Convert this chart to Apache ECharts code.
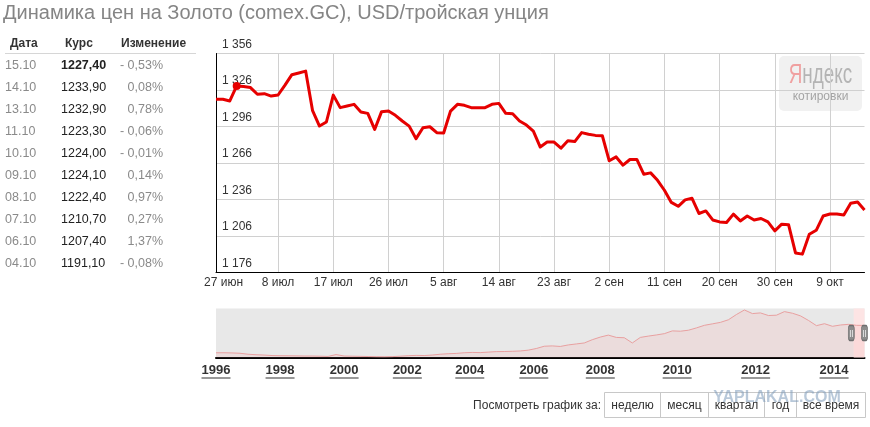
<!DOCTYPE html>
<html><head><meta charset="utf-8">
<script src="https://cdn.jsdelivr.net/npm/echarts@6/dist/echarts.min.js"></script>
<style>html,body{margin:0;padding:0;background:#fff;}#c{width:870px;height:427px;}</style>
</head><body><div id="c"></div>
<script>
const FONT = '"Liberation Sans", Arial, sans-serif';

// ---- main chart: COMEX gold, trading days (Mon–Sat), 27.06 – 15.10 ----
const dates = [
 '27.06','28.06','30.06',
 '01.07','02.07','03.07','04.07','05.07','07.07','08.07','09.07','10.07','11.07','12.07','14.07','15.07','16.07','17.07','18.07','19.07','21.07','22.07','23.07','24.07','25.07','26.07','28.07','29.07','30.07','31.07',
 '01.08','02.08','04.08','05.08','06.08','07.08','08.08','09.08','11.08','12.08','13.08','14.08','15.08','16.08','18.08','19.08','20.08','21.08','22.08','23.08','25.08','26.08','27.08','28.08','29.08','30.08',
 '01.09','02.09','03.09','04.09','05.09','06.09','08.09','09.09','10.09','11.09','12.09','13.09','15.09','16.09','17.09','18.09','19.09','20.09','22.09','23.09','24.09','25.09','26.09','27.09','29.09','30.09',
 '01.10','02.10','03.10','04.10','06.10','07.10','08.10','09.10','10.10','11.10','13.10','14.10','15.10'
];
const prices = [
 1318.4,1318.4,1317.0,
 1329.3,1328.8,1328.0,1322.5,1323.0,1321.0,1321.9,1330.0,1338.6,1340.0,1341.5,1309.0,1296.4,1299.7,1321.8,1311.5,1312.8,1314.2,1307.9,1306.8,1293.6,1308.2,1308.7,1305.2,1300.5,1296.3,1286.0,
 1295.0,1295.8,1290.9,1290.6,1308.7,1314.2,1313.4,1311.5,1311.5,1311.5,1314.2,1315.0,1306.8,1306.5,1300.5,1297.2,1292.2,1279.1,1283.2,1283.2,1278.2,1284.3,1283.6,1291.0,1289.6,1288.7,
 1288.4,1267.8,1271.0,1264.2,1268.9,1268.9,1256.8,1257.9,1251.8,1243.6,1233.6,1230.4,1235.7,1237.0,1224.5,1226.6,1219.2,1217.6,1217.1,1224.0,1218.4,1222.5,1219.2,1220.4,1217.6,1210.2,
 1215.7,1215.2,1192.05,1191.1,1207.4,1210.7,1222.4,1224.1,1224.0,1223.3,1232.9,1233.9,1227.4
];
const xLabelIndex = [0,9,17,25,33,41,49,57,65,73,81,89];
const monthNames = {'06':'июн','07':'июл','08':'авг','09':'сен','10':'окт'};
const yMin = 1176, yMax = 1356, yStep = 30;
const highlightIndex = 3;

// ---- navigator: long-term history 1996 – 2014 (one point per navigator step) ----
const navValues = [
 389,390,385,375,345,330,320,305,300,298,295,290,290,285,278,335,
 290,285,280,275,270,268,272,285,300,310,305,320,345,360,370,390,
 400,395,410,425,428,435,445,470,520,590,600,583,630,660,690,790,
 870,930,860,850,690,860,900,935,975,1060,1050,1080,1150,1230,1275,1320,
 1400,1560,1700,1590,1610,1530,1540,1650,1600,1520,1380,1220,1280,1200,1240,1260,
 1230,1227
];
const navYearLabels = ['1996','1998','2000','2002','2004','2006','2008','2010','2012','2014'];
const navYearPos    = [0, 8, 16, 23.9, 31.7, 39.7, 48, 57.6, 67.4, 77.2];
const navMin = 245, navMax = 1745;
const navSelectFrom = 79.65;

// ---- side table ----
const tableDates   = ['15.10','14.10','13.10','11.10','10.10','09.10','08.10','07.10','06.10','04.10'];
const tableRates   = [1227.40,1233.90,1232.90,1223.30,1224.00,1224.10,1222.40,1210.70,1207.40,1191.10];
const tableChanges = [-0.53,0.08,0.78,-0.06,-0.01,0.14,0.97,0.27,1.37,-0.08];
const tableHeaders = ['Дата','Курс','Изменение'];

const periodButtons = ['неделю','месяц','квартал','год','все время'];

const chart = echarts.init(document.getElementById('c'));

const fmtThousands = v => String(v).replace(/\B(?=(\d{3})+(?!\d))/g, ' ');
const fmtComma = (v) => v.toFixed(2).replace('.', ',');
const navLast = navValues.length - 1;

const graphics = [];
graphics.push({type:'text', x:3, y:13, style:{text:'Динамика цен на Золото (comex.GC), USD/тройская унция', font:'20px '+FONT, fill:'#858585', textVerticalAlign:'middle'}});

// table
const headerX = [10, 65, 121];
tableHeaders.forEach((h, i) => graphics.push({type:'text', x:headerX[i], y:43.5, style:{text:h, font:'bold 12px '+FONT, fill:'#333', textVerticalAlign:'middle'}}));
graphics.push({type:'line', shape:{x1:5, y1:53.5, x2:196, y2:53.5}, style:{stroke:'#d6d6d6', lineWidth:1}});
tableDates.forEach((d, i) => {
  const y = 66 + i * 21.95;
  graphics.push({type:'text', x:5, y, style:{text:d, font:'12.5px '+FONT, fill:'#8a8a8a', textVerticalAlign:'middle'}});
  graphics.push({type:'text', x:61, y, style:{text:fmtComma(tableRates[i]), font:(i===0?'bold ':'')+'12.5px '+FONT, fill:'#222', textVerticalAlign:'middle'}});
  const c = tableChanges[i];
  graphics.push({type:'text', x:163, y, style:{text:(c<0?'- ':'')+fmtComma(Math.abs(c))+'%', font:'12.5px '+FONT, fill:'#8a8a8a', textAlign:'right', textVerticalAlign:'middle'}});
});

// Yandex watermark
graphics.push({type:'rect', shape:{x:779, y:56, width:83, height:55, r:5}, style:{fill:'#f1f1f1'}, z:-1});
graphics.push({type:'text', x:820.5, y:76, scaleX:0.7, style:{text:'{r|Я}{g|ндекс}', font:'27px '+FONT, textAlign:'center', textVerticalAlign:'middle',
  rich:{r:{fill:'#f0a0a0', fontSize:27, fontFamily:FONT}, g:{fill:'#b4b4b4', fontSize:27, fontFamily:FONT}}}});
graphics.push({type:'text', x:820.5, y:96.5, style:{text:'котировки', font:'12px '+FONT, fill:'#a4a4a4', textAlign:'center', textVerticalAlign:'middle'}});

// period buttons
const btnEdges = [604.5, 660.5, 708.5, 764.5, 796.5, 865.5];
graphics.push({type:'text', x:601, y:405.5, style:{text:'Посмотреть график за:', font:'12px '+FONT, fill:'#333', textAlign:'right', textVerticalAlign:'middle'}});
graphics.push({type:'rect', shape:{x:btnEdges[0], y:392.5, width:btnEdges[5]-btnEdges[0], height:25}, style:{fill:'#fff', stroke:'#c8c8c8', lineWidth:1}});
periodButtons.forEach((b, i) => {
  if (i > 0) graphics.push({type:'line', shape:{x1:btnEdges[i], y1:392.5, x2:btnEdges[i], y2:417.5}, style:{stroke:'#c8c8c8', lineWidth:1}});
  graphics.push({type:'text', x:(btnEdges[i]+btnEdges[i+1])/2, y:405.5, style:{text:b, font:'12px '+FONT, fill:'#333', textAlign:'center', textVerticalAlign:'middle'}});
});
graphics.push({type:'text', x:777, y:397.5, z:100, style:{text:'YAPLAKAL.COM', font:'bold 16px '+FONT, fill:'rgba(125,155,185,0.55)', textAlign:'center', textVerticalAlign:'middle'}});

const option = {
  backgroundColor:'#fff',
  animation:false,
  textStyle:{fontFamily:FONT},
  grid:[
    {left:216, top:53.5, width:648.5, height:219, containLabel:false},
    {left:216, top:308.5, width:648.5, height:49, show:true, backgroundColor:'#e8e8e8', borderWidth:0}
  ],
  xAxis:[
    {type:'category', gridIndex:0, data:dates, boundaryGap:false,
     axisLine:{onZero:false, lineStyle:{color:'#000', width:1}},
     axisTick:{show:false},
     axisLabel:{interval:(i)=>xLabelIndex.includes(i), margin:4, color:'#333', fontSize:12, fontFamily:FONT,
       formatter:(v, i) => {
         const p = v.split('.');
         const t = parseInt(p[0],10) + ' ' + monthNames[p[1]];
         return i === 0 ? '{a|'+t+'}' : t;
       },
       rich:{a:{padding:[0,0,0,15], fontSize:12, color:'#333', fontFamily:FONT}}},
     splitLine:{show:true, interval:(i)=>xLabelIndex.includes(i), lineStyle:{color:'#d0d0d0', width:1}}},
    {type:'value', gridIndex:1, min:0, max:navLast,
     axisLine:{onZero:false, lineStyle:{color:'#000', width:2}},
     axisTick:{show:false},
     axisLabel:{customValues:navYearPos, margin:5, showMinLabel:true, showMaxLabel:true, hideOverlap:false,
       formatter:(v) => {
         let k = 0, best = Infinity;
         navYearPos.forEach((p, j) => { if (Math.abs(p - v) < best) { best = Math.abs(p - v); k = j; } });
         return '{t|' + navYearLabels[k] + '}\n{u|}';
       },
       rich:{t:{fontSize:13, fontWeight:'bold', color:'#333', fontFamily:FONT, lineHeight:15}, u:{width:29, height:1, backgroundColor:'#333'}}},
     splitLine:{show:false}}
  ],
  yAxis:[
    {type:'value', gridIndex:0, min:yMin, max:yMax, interval:yStep,
     axisLine:{show:true, lineStyle:{color:'#000', width:1}},
     axisTick:{show:false},
     axisLabel:{inside:true, margin:6, verticalAlign:'bottom', padding:[0,0,2,0], lineHeight:14, color:'#333', fontSize:12, fontFamily:FONT, formatter:fmtThousands},
     splitLine:{show:true, lineStyle:{color:'#d0d0d0', width:1}}},
    {type:'value', gridIndex:1, min:navMin, max:navMax, show:false, splitLine:{show:false}}
  ],
  series:[
    {type:'line', xAxisIndex:0, yAxisIndex:0, z:5,
     data:prices.map((v, i) => i === highlightIndex ? {value:v, symbol:'circle', symbolSize:8} : v),
     symbol:'none', showSymbol:true, showAllSymbol:true,
     lineStyle:{color:'#e60000', width:3, join:'round'},
     itemStyle:{color:'#e60000'}},
    {type:'line', xAxisIndex:1, yAxisIndex:1, data:navValues.map((v, i) => [i, v]), symbol:'none', silent:true,
     lineStyle:{color:'#e8a0a0', width:1},
     areaStyle:{color:'rgba(245,185,185,0.35)'},
     markArea:{silent:true, itemStyle:{color:'#fde4e4'},
       data:[[{xAxis:navSelectFrom}, {xAxis:navLast}]]},
     markPoint:{silent:true, symbol:'roundRect', symbolSize:[6,15],
       itemStyle:{color:'#8c8c8c', borderColor:'#6e6e6e', borderWidth:1},
       label:{show:true, position:'inside', formatter:'||', color:'#fff', fontSize:8, fontFamily:FONT},
       data:[{coord:[navSelectFrom - 0.3, (navMin+navMax)/2]}, {coord:[navLast, (navMin+navMax)/2]}]}}
  ],
  graphic:graphics
};
chart.setOption(option);
</script></body></html>
